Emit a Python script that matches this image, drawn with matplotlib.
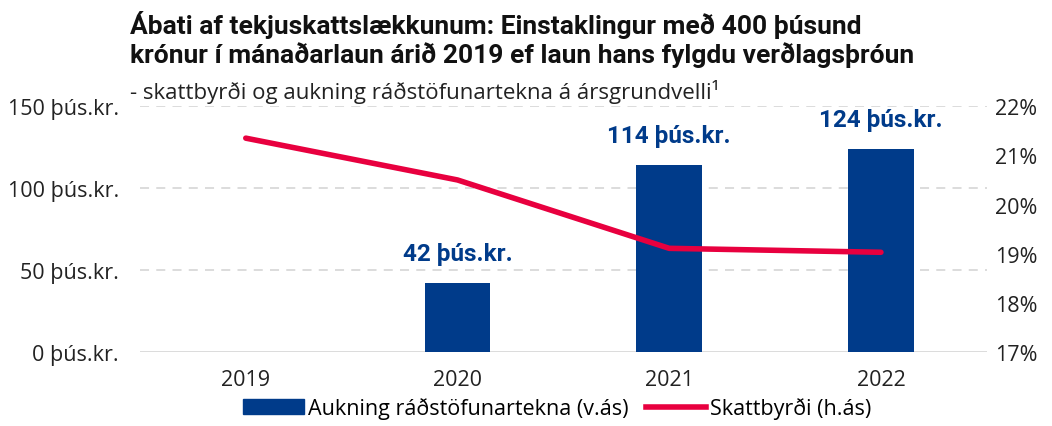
import matplotlib.pyplot as plt
from matplotlib.lines import Line2D
from matplotlib.patches import Patch

plt.rcParams['font.family'] = ['Open Sans', 'DejaVu Sans']

years = ['2019', '2020', '2021', '2022']
income_gain = [0, 42, 114, 124]          # þús.kr., left axis
tax_burden = [21.35, 20.5, 19.11, 19.03]  # %, right axis
bar_labels = ['', '42 þús.kr.', '114 þús.kr.', '124 þús.kr.']

blue = '#003B8A'
red = '#E8003F'
grey = '#D9D9D9'
txt = '#222222'

fig = plt.figure(figsize=(10.52, 4.27), dpi=100)
ax = fig.add_axes([0.133, 0.173, 0.805, 0.576])
ax2 = ax.twinx()

x = range(len(years))
ax.bar(x, income_gain, width=0.31, color=blue, zorder=2)
for i, (v, lab) in enumerate(zip(income_gain, bar_labels)):
    if lab:
        ax.text(i, v + 11, lab, ha='center', va='bottom', color=blue,
                fontsize=17.5, fontweight='bold', family='Roboto')

ax.set_ylim(0, 150)
ax.set_yticks([0, 50, 100, 150])
ax.set_yticklabels([f'{v} þús.kr.' for v in [0, 50, 100, 150]])
ax.set_xlim(-0.5, 3.5)
ax.set_xticks(list(x))
ax.set_xticklabels(years)
for v in [50, 100, 150]:
    ax.axhline(v, color=grey, lw=1.3, ls=(0, (5, 4)), zorder=0)
ax.axhline(0, color=grey, lw=1.3, zorder=0)

ax2.plot(list(x), tax_burden, color=red, lw=4, solid_capstyle='round', zorder=3)
ax2.set_ylim(17, 22)
ax2.set_yticks(range(17, 23))
ax2.set_yticklabels([f'{v}%' for v in range(17, 23)])

for a in (ax, ax2):
    for s in a.spines.values():
        s.set_visible(False)
    a.tick_params(length=0, labelsize=15.5, colors=txt)
ax.tick_params(axis='y', pad=15)
ax2.tick_params(axis='y', pad=6)
ax.tick_params(axis='x', pad=12)

fig.text(0.124, 0.975, 'Ábati af tekjuskattslækkunum: Einstaklingur með 400 þúsund\n'
         'krónur í mánaðarlaun árið 2019 ef laun hans fylgdu verðlagsþróun',
         fontsize=19, fontweight='bold', color='#111111', va='top',
         linespacing=1.15, family='Roboto')
fig.text(0.124, 0.785, '- skattbyrði og aukning ráðstöfunartekna á ársgrundvelli¹',
         fontsize=16, color=txt, va='center')

handles = [Patch(color=blue), Line2D([0], [0], color=red, lw=4)]
fig.legend(handles, ['Aukning ráðstöfunartekna (v.ás)', 'Skattbyrði (h.ás)'],
           loc='lower center', bbox_to_anchor=(0.53, -0.03), ncol=2, frameon=False,
           fontsize=15.5, handlelength=2.8, handletextpad=0.2, columnspacing=0.8)

fig.savefig('out.png', dpi=100)
